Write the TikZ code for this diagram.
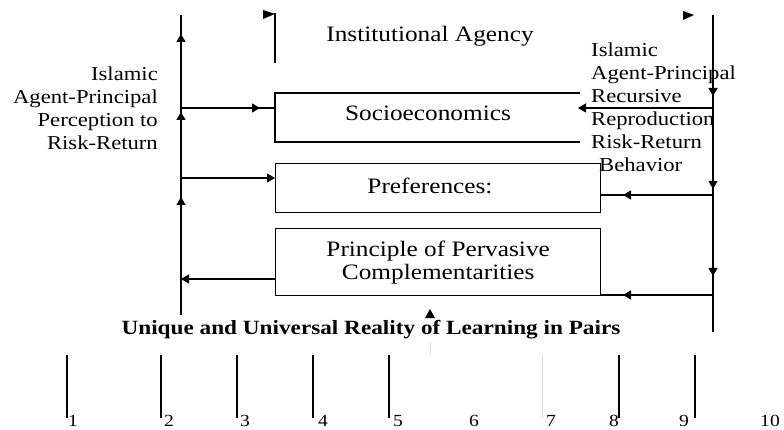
\documentclass[tikz,border=0pt]{standalone}
\usepackage{fontspec}
\setmainfont{Liberation Serif}[FakeStretch=1.15]
\usetikzlibrary{arrows.meta,decorations.markings}
\begin{document}
\begin{tikzpicture}[x=1pt,y=-1pt,
  ln/.style={line width=1.3pt},
  endtip/.style={-{Triangle[length=8pt,width=9pt]}},
  boxnode/.style={draw,line width=1.3pt,inner sep=0pt,anchor=north west,align=center,font=\fontsize{22}{23}\selectfont},
  lbl/.style={inner sep=0pt,font=\fontsize{22}{23}\selectfont},
  side/.style={inner sep=0pt,font=\fontsize{19.7}{23}\selectfont},
  nums/.style={inner sep=0pt,font=\fontsize{17}{18}\selectfont},
  tick/.style={line width=1.3pt},
  onearrow/.style={postaction={decorate},decoration={markings,mark=at position #1 with {\arrow{Triangle[length=8pt,width=9pt]}}}},
  threearrows/.style args={#1,#2,#3}{postaction={decorate},decoration={markings,
     mark=at position #1 with {\arrow{Triangle[length=8pt,width=9pt]}},
     mark=at position #2 with {\arrow{Triangle[length=8pt,width=9pt]}},
     mark=at position #3 with {\arrow{Triangle[length=8pt,width=9pt]}}}}]
\useasboundingbox (0,0) rectangle (784,430);
\fill[white] (0,0) rectangle (784,430);

% coordinates of the two vertical lines
\coordinate (Lt) at (181,15);
\coordinate (Lb) at (181,315);
\coordinate (Rt) at (713,15);
\coordinate (Rb) at (713,332);

% boxes
\draw[ln] (580,93) -| (275,142) -- (580,142);
\node[lbl] (socio) at (428,113) {Socioeconomics};
\node[boxnode,minimum width=325pt,minimum height=49pt] (pref) at (275,163) {};
\node[lbl] (preftxt) at (430,186) {Preferences:};
\node[boxnode,minimum width=325pt,minimum height=67pt] (ppc) at (275,228) {Principle of Pervasive\\Complementarities};

% vertical lines
\draw[ln,threearrows={118pt,203pt,281pt}] (Lb) -- (Lt);
\draw[ln,threearrows={81pt,174pt,261pt}] (Rt) -- (Rb);

% horizontal connectors, left side
\coordinate (l1) at (181,108);
\coordinate (s1) at (275,108);
\draw[ln,onearrow=79pt] (l1) -- (s1);
\coordinate (l2) at (181,178);
\coordinate (p1) at (275,178);
\draw[ln,endtip] (l2) -- (p1);
\coordinate (c1) at (275,279);
\coordinate (l3) at (181,279);
\draw[ln,endtip] (c1) -- (l3);

% horizontal connectors, right side
\coordinate (r1) at (713,108);
\coordinate (s2) at (578,108);
\draw[ln,endtip] (r1) -- (s2);
\coordinate (r2) at (713,195);
\coordinate (p2) at (600,195);
\draw[ln,onearrow=90pt] (r2) -- (p2);
\coordinate (r3) at (713,295);
\coordinate (p3) at (600,295);
\draw[ln,onearrow=90pt] (r3) -- (p3);

% top markers
\coordinate (ft) at (275,13);
\coordinate (fb) at (275,63);
\draw[ln] (fb) -- (ft);
\fill (263,10) -- (275,14) -- (263,19) -- cycle;
\fill (683,11) -- (694,15) -- (683,20) -- cycle;

% small up arrowhead under the bottom box
\fill (425,318) -- (430,309) -- (435,318) -- cycle;
\draw[gray!25,line width=0.8pt] (430,343) -- (430,355);

% texts
\node[lbl] (inst) at (430,36) {Institutional Agency};
\node[side,anchor=east,align=right] (lefttxt) at (158,108)
  {Islamic\\Agent-Principal\\Perception to\\Risk-Return};
\node[side,anchor=west,align=left] (righttxt) at (591,107)
  {Islamic\\Agent-Principal\\Recursive\\Reproduction\\Risk-Return\\\hspace*{8pt}Behavior};
\node[inner sep=0pt,font=\fontsize{20.2}{23}\selectfont\bfseries] (uniq) at (371,330)
  {Unique and Universal Reality of Learning in Pairs};

% scale ticks
\foreach \x in {67,161,237,313,389,619,695}
  \draw[tick] (\x,355) -- (\x,418);
\draw[gray!30,line width=0.8pt] (542,355) -- (542,418);
\foreach \x/\n in {73/1,169/2,245/3,323/4,398/5,474/6,551/7,614/8,684/9,770/10}
  \node[nums,anchor=south] (n\n) at (\x,427) {\n};
\end{tikzpicture}
\end{document}
